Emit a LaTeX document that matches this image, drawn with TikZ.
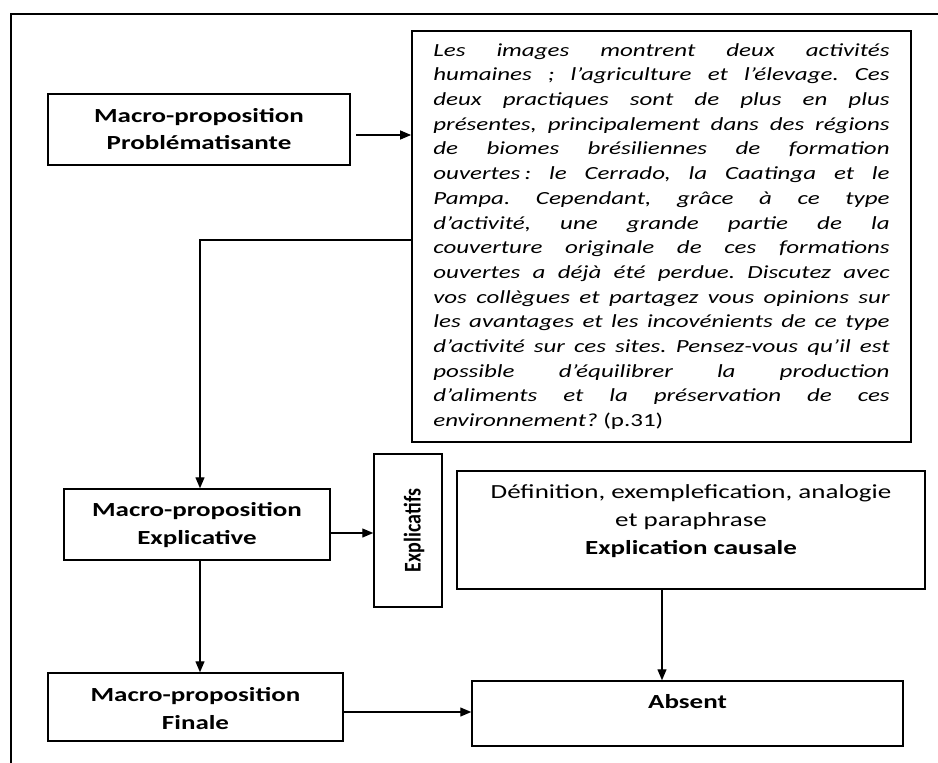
\documentclass[tikz,border=0pt]{standalone}
\usepackage{fontspec}
\setmainfont{Carlito}
\usepackage{graphicx}
\usetikzlibrary{arrows.meta}

\newlength{\bw}
\setlength{\bw}{338pt}
\newcommand{\jl}[1]{\hbox to \bw{#1}}
\newcommand{\lbl}[3]{\raisebox{#1}[\height][\depth]{\scalebox{1.35}[1]{\fontsize{20}{#2}\selectfont\begin{tabular}{@{}c@{}}#3\end{tabular}}}}

\tikzset{
  box/.style={draw, line width=1.5pt, inner sep=0pt},
  arr/.style={line width=1.3pt, -{Triangle[length=11pt,width=9pt]}},
  frame/.style={line width=1.2pt}
}

\begin{document}
\begin{tikzpicture}[x=1pt, y=-1pt]
\useasboundingbox (0,0) rectangle (938,763);
\fill[white] (0,0) rectangle (938,763);

% outer (cropped) frame
\draw[frame] (11,775) -- (11,14) -- (950,14);

% nodes
\node[box, minimum width=302, minimum height=71] (prob) at (199,129.5)
  {\lbl{-1.5pt}{27}{\bfseries Macro-proposition\\\bfseries Problématisante}};

\node[box, line width=1.8pt, minimum width=499, minimum height=411] (txt) at (661.5,236.5)
  {\scalebox{1.35}[1]{\vbox{\itshape\fontsize{18.5}{24.7}\selectfont\frenchspacing
    \jl{Les images montrent deux activités}
    \jl{humaines ; l’agriculture et l’élevage. Ces}
    \jl{deux practiques sont de plus en plus}
    \jl{présentes, principalement dans des régions}
    \jl{de biomes brésiliennes de formation}
    \jl{ouvertes\,: le Cerrado, la Caatinga et le}
    \jl{Pampa. Cependant, grâce à ce type}
    \jl{d’activité, une grande partie de la}
    \jl{couverture originale de ces formations}
    \jl{ouvertes a déjà été perdue. Discutez avec}
    \jl{vos collègues et partagez vous opinions sur}
    \jl{les avantages et les incovénients de ce type}
    \jl{d’activité sur ces sites. Pensez-vous qu’il est}
    \jl{possible d’équilibrer la production}
    \jl{d’aliments et la préservation de ces}
    \jl{environnement? {\upshape (p.31)}\hfil}}}};

\node[box, minimum width=266, minimum height=71] (expl) at (197,524.5)
  {\lbl{0pt}{28}{\bfseries Macro-proposition\\\bfseries Explicative}};

\node[box, minimum width=68, minimum height=153] (expf) at (408,530.5)
  {\rotatebox{90}{\raisebox{-6pt}[\height][\depth]{\scalebox{1}[1.2]{\fontsize{20}{24}\selectfont\bfseries Explicatifs}}}};

\node[box, minimum width=468, minimum height=118] (def) at (691,530)
  {\lbl{9.5pt}{28}{Définition, exemplefication, analogie\\et paraphrase\\\bfseries Explication causale}};

\node[box, minimum width=295, minimum height=68] (fin) at (195.5,707)
  {\lbl{-3pt}{28}{\bfseries Macro-proposition\\\bfseries Finale}};

\node[box, minimum width=431, minimum height=65] (abs) at (687.5,713.5)
  {\lbl{11pt}{28}{\bfseries Absent}};

% connectors
\coordinate (p1) at ([shift={(5,5.5)}]prob.east);
\draw[arr] (p1) -- (p1 -| txt.west);

\coordinate (t1) at ([yshift=-3.5pt]txt.west);
\coordinate (e1) at ([xshift=3pt]expl.north);
\draw[arr] (t1) -| (e1);

\coordinate (e2) at ([yshift=-8.5pt]expl.east);
\draw[arr] (e2) -- (e2 -| expf.west);

\coordinate (e3) at ([xshift=3pt]expl.south);
\draw[arr] (e3) -- (e3 |- fin.north);

\coordinate (f1) at ([yshift=-5pt]fin.east);
\draw[arr] (f1) -- (f1 -| abs.west);

\coordinate (d1) at ([xshift=-29pt]def.south);
\draw[arr] (d1) -- (d1 |- abs.north);
\end{tikzpicture}
\end{document}
